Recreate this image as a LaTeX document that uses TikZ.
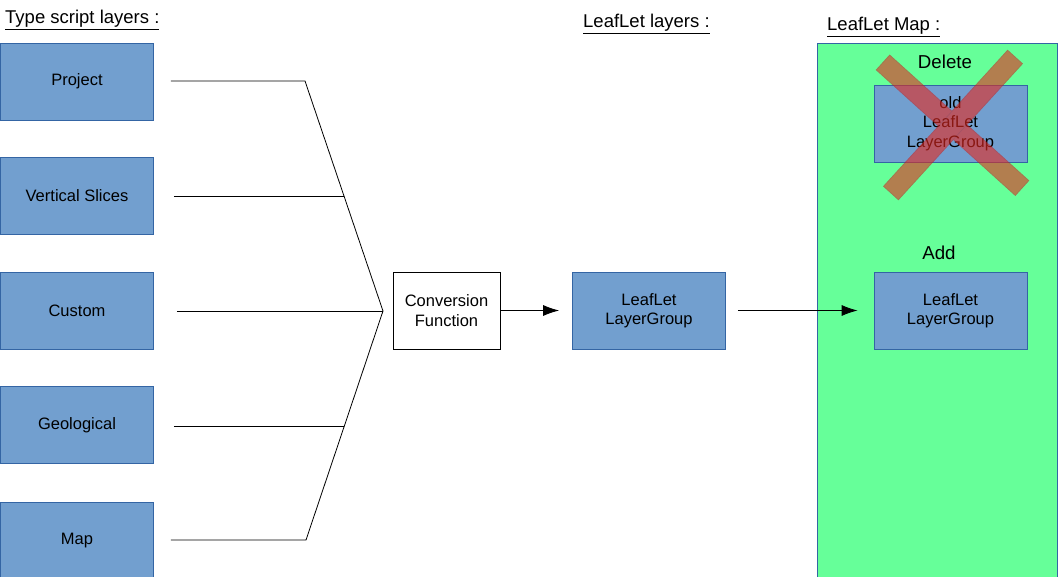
\documentclass[tikz,border=0pt]{standalone}
\usepackage{fontspec}
\setmainfont{Liberation Sans}
\usetikzlibrary{arrows.meta}
\definecolor{boxblue}{RGB}{114,159,207}
\definecolor{boxborder}{RGB}{52,101,164}
\definecolor{mapgreen}{RGB}{102,255,153}
\definecolor{crossfill}{RGB}{230,40,30}
\definecolor{crossborder}{RGB}{201,33,30}
\newcommand{\ulx}[1]{\underline{#1}}
\tikzset{
  layerbox/.style={draw=boxborder, fill=boxblue, line width=0.8pt, minimum width=153pt, minimum height=77pt, inner sep=0pt, align=center, font=\fontsize{16.5}{19.5}\selectfont},
  convbox/.style={draw=black, fill=white, line width=0.8pt, minimum width=107pt, minimum height=77pt, inner sep=0pt, align=center, font=\fontsize{16.5}{19.5}\selectfont},
  titletext/.style={anchor=base west, inner sep=0pt, font=\fontsize{18.5}{22}\selectfont},
  labeltext/.style={inner sep=0pt, font=\fontsize{18.7}{22}\selectfont},
  wire/.style={draw=black, line width=0.8pt},
  arrowwire/.style={wire, -{Latex[length=16pt,width=11pt]}},
  crossbar/.style={fill=crossfill, draw=crossborder, line width=0.8pt}
}
\begin{document}
\begin{tikzpicture}[x=1pt,y=-1pt]
\useasboundingbox (0,0) rectangle (1058,577);
% green map area
\draw[draw=boxborder, fill=mapgreen, line width=0.8pt] (817.5,43) rectangle (1057.5,600);
% titles
\node[titletext] (t1) at (5,24) {\ulx{Type script layers :}};
\node[titletext] (t2) at (583,28) {\ulx{LeafLet layers :}};
\node[titletext] (t3) at (827,31) {\ulx{LeafLet Map :}};
% left boxes
\node[layerbox] (proj) at (77,81.5) {Project};
\node[layerbox] (vert) at (77,196) {Vertical Slices};
\node[layerbox] (cust) at (77,310.5) {Custom};
\node[layerbox] (geol) at (77,425) {Geological};
\node[layerbox] (map) at (77,540.5) {Map};
% connectors
\coordinate (J) at (383,311);
\coordinate (pk) at (305,81);
\coordinate (mk) at (306,540);
\coordinate (vj) at (344,196);
\coordinate (gj) at (344,426);
\draw[wire] ([xshift=17pt]proj.east |- pk) -- (pk) -- (J);
\draw[wire] ([xshift=20pt]vert.east |- vj) -- (vj);
\draw[wire] ([xshift=23pt]cust.east |- J) -- (J);
\draw[wire] ([xshift=20pt]geol.east |- gj) -- (gj);
\draw[wire] ([xshift=17pt]map.east |- mk) -- (mk) -- (J);
% conversion
\node[convbox] (conv) at (446.5,310.5) {Conversion\\Function};
\node[layerbox] (llg) at (649,310.5) {LeafLet\\LayerGroup};
\draw[arrowwire] (conv.east) -- ([xshift=-13pt]llg.west);
% map contents
\node[layerbox] (newg) at (950.5,310.5) {LeafLet\\LayerGroup};
\node[labeltext] (add) at (939,253) {Add};
\draw[arrowwire] ([xshift=12pt]llg.east) -- ([xshift=-16pt]newg.west);
\node[layerbox] (oldg) at (950.5,123.5) {old\\LeafLet\\LayerGroup};
\node[labeltext] (del) at (945,62) {Delete};
% cross
\begin{scope}[transparency group, opacity=0.6]
\draw[crossbar] (876.3,69.9) -- (889.7,55.1) -- (1028.7,180.6) -- (1015.3,195.4) -- cycle;
\draw[crossbar] (1022.4,63.7) -- (1007.6,50.3) -- (883.6,186.3) -- (898.4,199.7) -- cycle;
\end{scope}
\end{tikzpicture}
\end{document}
